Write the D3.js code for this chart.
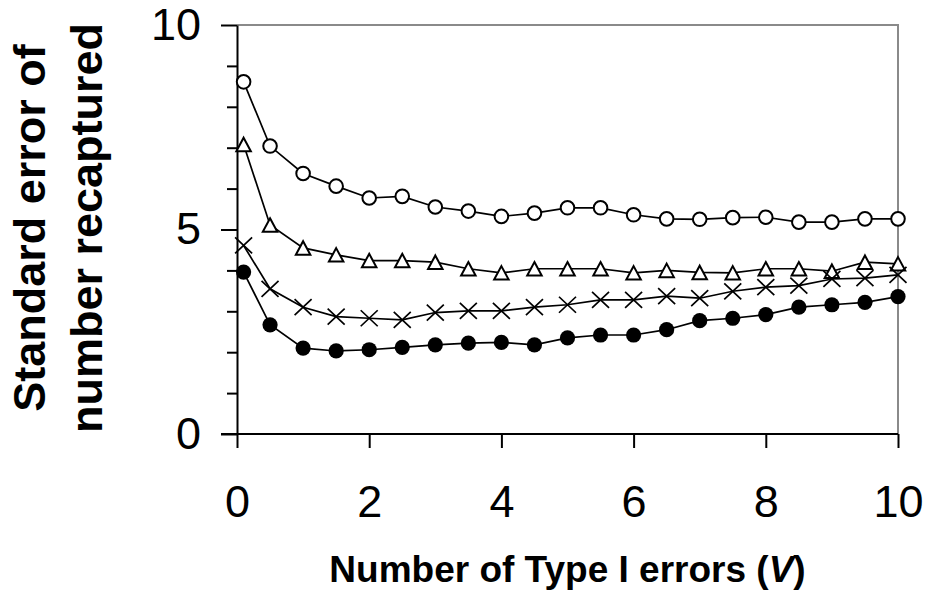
<!DOCTYPE html>
<html><head><meta charset="utf-8">
<script src="https://cdn.jsdelivr.net/npm/d3@7"></script>
<style>
html,body{margin:0;padding:0;background:#fff;}
svg text{font-family:"Liberation Sans",Arial,Helvetica,sans-serif;fill:#000;}
</style></head>
<body>
<svg id="chart" width="925" height="590"></svg>
<script>
const xValues = [0.1,0.5,1,1.5,2,2.5,3,3.5,4,4.5,5,5.5,6,6.5,7,7.5,8,8.5,9,9.5,10];
const openCircle = [8.61,7.04,6.37,6.06,5.77,5.81,5.55,5.45,5.32,5.40,5.53,5.53,5.36,5.26,5.25,5.29,5.30,5.18,5.18,5.26,5.26];
const openTriangle = [7.08,5.11,4.55,4.38,4.24,4.24,4.20,4.04,3.94,4.04,4.04,4.04,3.94,4.00,3.95,3.94,4.04,4.04,3.98,4.20,4.16];
const crossMark = [4.61,3.55,3.10,2.87,2.83,2.79,2.97,3.01,3.01,3.10,3.16,3.28,3.28,3.37,3.32,3.49,3.59,3.63,3.79,3.81,3.89];
const filledCircle = [3.96,2.67,2.10,2.03,2.06,2.12,2.18,2.22,2.24,2.18,2.35,2.42,2.42,2.55,2.77,2.83,2.92,3.10,3.16,3.22,3.36];
const xTicks = [0,2,4,6,8,10];
const yMajorTicks = [0,5,10];
const yMinorTicks = [1,2,3,4,6,7,8,9];
const xTitle = "Number of Type I errors (";
const xTitleItalic = "V";
const yTitle1 = "Standard error of";
const yTitle2 = "number recaptured";

const svg = d3.select("#chart");
const x = d3.scaleLinear().domain([0,10]).range([237,898]);
const y = d3.scaleLinear().domain([0,10]).range([434,25]);

// gray frame top and right
svg.append("path")
  .attr("d", `M${x(0)},${y(10)}H${x(10)}V${y(0)}`)
  .attr("fill","none").attr("stroke","#8a8a8a").attr("stroke-width",2);

// x axis
const gx = svg.append("g").attr("transform",`translate(0,${y(0)})`)
  .call(d3.axisBottom(x).tickValues(xTicks).tickSize(14).tickSizeOuter(0).tickPadding(37).tickFormat(d3.format("d")));
// y axis minor
const gym = svg.append("g").attr("transform",`translate(${x(0)},0)`)
  .call(d3.axisLeft(y).tickValues(yMinorTicks).tickSize(10).tickSizeOuter(0).tickFormat(""));
gym.select(".domain").remove();
// y axis major
const gy = svg.append("g").attr("transform",`translate(${x(0)},0)`)
  .call(d3.axisLeft(y).tickValues(yMajorTicks).tickSize(16).tickSizeOuter(0).tickPadding(20).tickFormat(d3.format("d")));

[gx,gy,gym].forEach(g=>{
  g.selectAll("path,line").attr("stroke","#000").attr("stroke-width",2);
  g.selectAll("text").attr("font-size",45).attr("font-family",'"Liberation Sans",Arial,sans-serif').attr("fill","#000");
});
gx.select(".domain").attr("d",`M${x(0)-16},0H${x(10)}`);

// series
const line = d3.line().x(d=>x(d[0])).y(d=>y(d[1]));
const series = [
  {vals: openCircle, type:"oc"},
  {vals: openTriangle, type:"tri"},
  {vals: crossMark, type:"x"},
  {vals: filledCircle, type:"fc"}
];
series.forEach(s=>{
  const pts = xValues.map((v,i)=>[v,s.vals[i]]);
  svg.append("path").datum(pts).attr("d",line)
    .attr("fill","none").attr("stroke","#000").attr("stroke-width",1.7);
  const g = svg.append("g");
  pts.forEach(p=>{
    const cx = x(p[0]), cy = y(p[1]);
    if (s.type==="oc") {
      g.append("circle").attr("cx",cx).attr("cy",cy).attr("r",6.8)
        .attr("fill","#fff").attr("stroke","#000").attr("stroke-width",2);
    } else if (s.type==="fc") {
      g.append("circle").attr("cx",cx).attr("cy",cy).attr("r",7.6)
        .attr("fill","#000").attr("stroke","none");
    } else if (s.type==="tri") {
      const w=14.5,h=13.5;
      g.append("path").attr("d",`M${cx},${cy-h/2}L${cx+w/2},${cy+h/2}L${cx-w/2},${cy+h/2}Z`)
        .attr("fill","#fff").attr("stroke","#000").attr("stroke-width",2).attr("stroke-linejoin","miter");
    } else {
      const a=8.5,b=8;
      g.append("path").attr("d",`M${cx-a},${cy-b}L${cx+a},${cy+b}M${cx-a},${cy+b}L${cx+a},${cy-b}`)
        .attr("fill","none").attr("stroke","#000").attr("stroke-width",1.7);
    }
  });
});

// x title
const xt = svg.append("text").attr("x",567.5).attr("y",581.5).attr("text-anchor","middle")
  .attr("font-size",37).attr("font-weight","bold");
xt.append("tspan").text(xTitle);
xt.append("tspan").attr("font-style","italic").text(xTitleItalic);
xt.append("tspan").text(")");

// y title
const yt = svg.append("g").attr("transform","translate(0,228) rotate(-90)");
yt.append("text").attr("x",0).attr("y",45).attr("text-anchor","middle")
  .attr("font-size",45).attr("font-weight","bold").text(yTitle1);
yt.append("text").attr("x",0).attr("y",102).attr("text-anchor","middle")
  .attr("font-size",45).attr("font-weight","bold").text(yTitle2);
</script>
</body></html>
